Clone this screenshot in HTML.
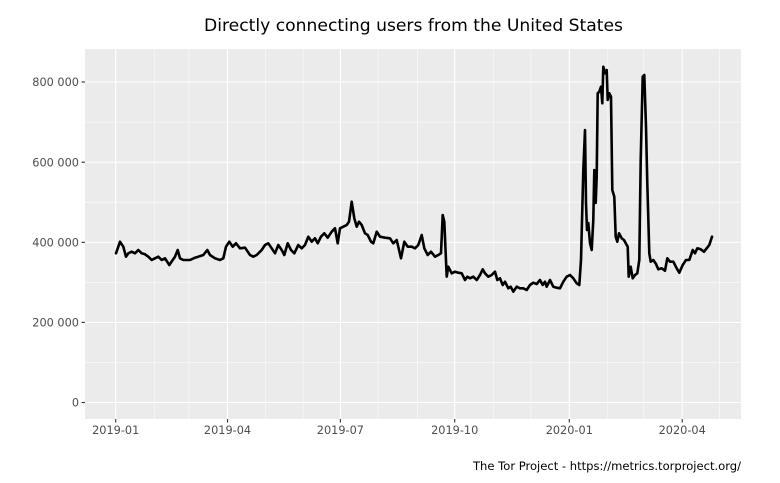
<!DOCTYPE html>
<html>
<head>
<meta charset="utf-8">
<style>
  html, body { margin: 0; padding: 0; background: #ffffff; }
  svg { display: block; }
  text { font-family: "DejaVu Sans", "Liberation Sans", sans-serif; }
</style>
</head>
<body>
<svg width="780" height="483" viewBox="0 0 780 483" xmlns="http://www.w3.org/2000/svg">
  <rect x="0" y="0" width="780" height="483" fill="#ffffff"/>
  <!-- Title -->
  <text x="413.5" y="31" font-size="16.5" fill="#000" text-anchor="middle" textLength="419" lengthAdjust="spacingAndGlyphs">Directly connecting users from the United States</text>

  <!-- Panel -->
  <rect x="85" y="49" width="656" height="370" fill="#ebebeb"/>

  <!-- minor horizontal gridlines -->
  <g stroke="#ffffff" stroke-width="0.55">
    <line x1="85" x2="741" y1="42.0" y2="42.0"/>
    <line x1="85" x2="741" y1="122.1" y2="122.1"/>
    <line x1="85" x2="741" y1="202.2" y2="202.2"/>
    <line x1="85" x2="741" y1="282.4" y2="282.4"/>
    <line x1="85" x2="741" y1="362.5" y2="362.5"/>
  </g>
  <!-- minor vertical gridlines (monthly) -->
  <g stroke="#ffffff" stroke-width="0.55">
    <line x1="154.2" x2="154.2" y1="49" y2="419"/>
    <line x1="189.0" x2="189.0" y1="49" y2="419"/>
    <line x1="265.8" x2="265.8" y1="49" y2="419"/>
    <line x1="303.1" x2="303.1" y1="49" y2="419"/>
    <line x1="378.0" x2="378.0" y1="49" y2="419"/>
    <line x1="417.5" x2="417.5" y1="49" y2="419"/>
    <line x1="493.2" x2="493.2" y1="49" y2="419"/>
    <line x1="530.9" x2="530.9" y1="49" y2="419"/>
    <line x1="607.8" x2="607.8" y1="49" y2="419"/>
    <line x1="643.8" x2="643.8" y1="49" y2="419"/>
    <line x1="719.6" x2="719.6" y1="49" y2="419"/>
  </g>
  <!-- major gridlines -->
  <g stroke="#ffffff" stroke-width="1.1">
    <line x1="85" x2="741" y1="82.0" y2="82.0"/>
    <line x1="85" x2="741" y1="162.2" y2="162.2"/>
    <line x1="85" x2="741" y1="242.3" y2="242.3"/>
    <line x1="85" x2="741" y1="322.4" y2="322.4"/>
    <line x1="85" x2="741" y1="402.5" y2="402.5"/>
    <line x1="115.7" x2="115.7" y1="49" y2="419"/>
    <line x1="227.5" x2="227.5" y1="49" y2="419"/>
    <line x1="340.4" x2="340.4" y1="49" y2="419"/>
    <line x1="454.7" x2="454.7" y1="49" y2="419"/>
    <line x1="569.3" x2="569.3" y1="49" y2="419"/>
    <line x1="682.2" x2="682.2" y1="49" y2="419"/>
  </g>

  <!-- Data line -->
  <polyline fill="none" stroke="#000000" stroke-width="2.6" stroke-linejoin="round" stroke-linecap="round"
    points="116,253.3 120,241.7 123.3,246.7 126,256.7 128.3,253.3 131.7,251.7 135,253.3 138.3,250 141.7,253.3 145,254.3 148.3,256.7 151.7,260 155,258.3 158.3,256.7 161.7,260 165,258.3 169.3,265 172.7,260 175,256.7 177.7,250 180,258.3 183.3,260 190,260 195,257.7 198.3,256.7 203.3,255 207.3,250 210,255 215,258.3 220,260 223.3,258.3 226,246.7 229.3,241.7 232.7,246.7 236,243.3 240,248.3 245,247.7 250,255 253.3,256.7 256.7,255 261.7,250 265,245
    268.3,243.3 271.7,248.3 275,253.3 278.3,245 281.7,250 284.3,255 287.7,243.3 291,250 294.3,253.3 298.3,245 301.7,248.3 305,245 308.3,236.7 311.7,241.7 315,238.3 317.7,243.3 321,236.7 324.3,233.3 327.7,237.7 331.7,231.7 335,228.3 337.7,243.3 340,228.3 343.3,226.7 346.7,225 349,221.7 351.7,201.7 354.3,218.3 356.7,226.7 359,221.7 361.7,225 365,233.3 367.7,235 371,241.7 373.3,243.3 376.7,231.7 380,236.7 385,237.7 390,238.3 393.3,243.3 396.7,240 401,258.3 404.3,241.7 407.7,246.7 411.7,246.7 415,248.3 418.3,245 421.7,235 424.3,248.3 427.7,255 431,251.7 435,256.7 438.3,255 441,253.3 442.7,215 444.3,221.7 446.7,276.7
    448.3,266.7 451.7,273.3 455,271.7 458.3,272.7 461.7,273.3 465,280 467.3,276.7 470,278.3 473.3,276.7 476.7,280 480,275 482.7,269.3 485,273.3 488.3,276.7 491.7,275 495,271.7 497.3,280 500,278.3 502.7,285 505,281.7 508.3,288.3 510.7,286.7 513.3,291.7 516.7,286.7 520,288.3 523.3,288.3 526.7,290 530,285 533.3,282.7 536.7,284 540,280 542.7,285 545,281.7 546.7,286.7 550,280 553.3,286.7 556.7,287.7 560,288.3 563.3,281.7 566.7,276.7 570,275 573.3,278.3 576.7,283.3 579.3,285 581,260
    583.3,170 585,130 586,203 587,230 588.3,223 590,243 591.7,250 593.3,220 594.3,170 595.7,203 596.7,176.7 597.7,93.3 599.3,91.7 601,86.7 602.3,103.3 603.3,66.7 605,73.3 606.7,70 607.7,100 609.3,93.3 611,96.7 612.3,190 614.3,196.7 615.7,236.7 617.3,241.7 619,233.3 621.7,238.3 624,240 626.7,245 627.7,246.7 628.7,276.7 630.7,266.7 632.7,278.3 635,275 637.3,273.3 639.3,260 640.7,160 642.7,76.7 644.3,75 646,126.7 647.3,183.3 649.3,253.3 650.7,261.7 653.3,260 656,264 658.3,269.3 661.7,268.3 665,270.7 667.3,258.3 670,261.7 673.3,261.7 676.7,268.3 679.3,272.7 682.7,265 686,260 689.3,260 692.7,250 695,253.3 697.3,248.3 700.7,249.3 704,251.7 706.7,248.3 709.3,245 712,236.7"/>

  <!-- Axis ticks -->
  <g stroke="#333333" stroke-width="1.1">
    <line x1="81.5" x2="85" y1="82.0" y2="82.0"/>
    <line x1="81.5" x2="85" y1="162.2" y2="162.2"/>
    <line x1="81.5" x2="85" y1="242.3" y2="242.3"/>
    <line x1="81.5" x2="85" y1="322.4" y2="322.4"/>
    <line x1="81.5" x2="85" y1="402.5" y2="402.5"/>
    <line x1="115.7" x2="115.7" y1="419" y2="422.5"/>
    <line x1="227.5" x2="227.5" y1="419" y2="422.5"/>
    <line x1="340.4" x2="340.4" y1="419" y2="422.5"/>
    <line x1="454.7" x2="454.7" y1="419" y2="422.5"/>
    <line x1="569.3" x2="569.3" y1="419" y2="422.5"/>
    <line x1="682.2" x2="682.2" y1="419" y2="422.5"/>
  </g>

  <!-- Y labels -->
  <g font-size="11.3" fill="#4d4d4d" text-anchor="end">
    <text x="79" y="86.2">800 000</text>
    <text x="79" y="166.4">600 000</text>
    <text x="79" y="246.5">400 000</text>
    <text x="79" y="326.6">200 000</text>
    <text x="79" y="406.7">0</text>
  </g>

  <!-- X labels -->
  <g font-size="11.3" fill="#4d4d4d" text-anchor="middle">
    <text x="115.7" y="434">2019-01</text>
    <text x="227.5" y="434">2019-04</text>
    <text x="340.4" y="434">2019-07</text>
    <text x="454.7" y="434">2019-10</text>
    <text x="569.3" y="434">2020-01</text>
    <text x="682.2" y="434">2020-04</text>
  </g>

  <!-- Caption -->
  <text x="741" y="470" font-size="11.3" fill="#000" text-anchor="end" textLength="268" lengthAdjust="spacingAndGlyphs">The Tor Project - https://metrics.torproject.org/</text>
</svg>
</body>
</html>
